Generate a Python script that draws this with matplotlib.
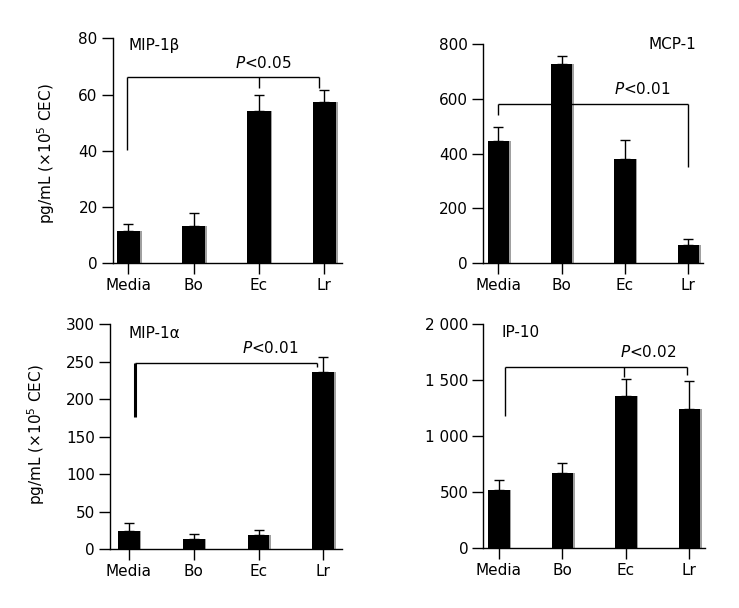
import matplotlib
matplotlib.use("Agg")
import matplotlib.pyplot as plt
import numpy as np

categories = ["Media", "Bo", "Ec", "Lr"]

mip1b_mean = [11.6, 13.4, 54.3, 57.5]
mip1b_err = [2.3, 4.5, 5.7, 4.0]

mcp1_mean = [446, 728, 379, 67]
mcp1_err = [50, 30, 70, 21]

mip1a_mean = [24.9, 14.2, 19.1, 236.6]
mip1a_err = [9.7, 6.7, 7.1, 19.9]

ip10_mean = [520, 675, 1355, 1242]
ip10_err = [86, 83, 152, 250]

mip1b_ticks = [0, 20, 40, 60, 80]
mcp1_ticks = [0, 200, 400, 600, 800]
mip1a_ticks = [0, 50, 100, 150, 200, 250, 300]
ip10_ticks = [0, 500, 1000, 1500, 2000]
ip10_ticklabels = ["0", "500", "1 000", "1 500", "2 000"]

plt.rcParams['font.family'] = ['DejaVu Sans']
FS = 11

fig = plt.figure(figsize=(7.39, 6.08), dpi=100)

def make_ax(rect, xlim, ylim):
    ax = fig.add_axes(rect)
    ax.set_xlim(*xlim)
    ax.set_ylim(*ylim)
    for s in ["top", "right"]:
        ax.spines[s].set_visible(False)
    for s in ["left", "bottom"]:
        ax.spines[s].set_linewidth(1.0)
    ax.tick_params(direction="out", length=7.8, width=1.0, labelsize=FS, pad=3)
    ax.set_xticks(range(len(categories)))
    ax.set_xticklabels(categories)
    return ax

def draw_bars(ax, means, errs, width):
    x = np.arange(len(means))
    # faint shadow
    ax.bar(x + 0.025, means, width=width, color="#a0a0a0", linewidth=0, zorder=1)
    ax.bar(x, means, width=width, color="black", linewidth=0, zorder=2)
    ax.errorbar(x, means, yerr=[np.zeros(len(errs)), errs], fmt="none",
                ecolor="black", elinewidth=1.0, capsize=3.6, capthick=1.0, zorder=3)

def bracket(ax, y, drops, lw=1.0, lwfirst=None):
    xs = [d[0] for d in drops]
    ax.plot([min(xs), max(xs)], [y, y], color="black", lw=lw, solid_capstyle="butt", zorder=4)
    for i, (xx, yb) in enumerate(drops):
        w = lwfirst if (i == 0 and lwfirst) else lw
        ax.plot([xx, xx], [y, yb], color="black", lw=w, solid_capstyle="butt", zorder=4)

ylabel = r"pg/mL ($\times$10$^5$ CEC)"

# Panel 1: MIP-1beta
ax1 = make_ax([0.1525, 0.5669, 0.3099, 0.370], (-0.239, 3.266), (0, 80))
draw_bars(ax1, mip1b_mean, mip1b_err, 0.357)
ax1.set_yticks(mip1b_ticks)
ax1.set_ylabel(ylabel, fontsize=FS)
ax1.yaxis.set_label_coords(-0.2445, 0.489)
bracket(ax1, 66.4, [(-0.025, 40.3), (2.0, 62.2), (2.92, 62.2)])
ax1.text(2.06, 71.3, r"$\it{P}$<0.05", fontsize=FS, ha="center", va="center")
ax1.text(0.0, 77.6, "MIP-1β", fontsize=FS, ha="left", va="center")

# Panel 2: MCP-1
ax2 = make_ax([0.6532, 0.5669, 0.2985, 0.3607], (-0.246, 3.237), (0, 800))
draw_bars(ax2, mcp1_mean, mcp1_err, 0.337)
ax2.set_yticks(mcp1_ticks)
bracket(ax2, 583, [(0.0, 541), (3.0, 350)])
ax2.text(2.28, 636, r"$\it{P}$<0.01", fontsize=FS, ha="center", va="center")
ax2.text(3.13, 800, "MCP-1", fontsize=FS, ha="right", va="center")

# Panel 3: MIP-1alpha
ax3 = make_ax([0.1488, 0.0965, 0.3136, 0.3706], (-0.293, 3.284), (0, 300))
draw_bars(ax3, mip1a_mean, mip1a_err, 0.335)
ax3.set_yticks(mip1a_ticks)
ax3.set_ylabel(ylabel, fontsize=FS)
ax3.yaxis.set_label_coords(-0.273, 0.507)
bracket(ax3, 248.6, [(0.093, 175.8), (2.9, 243)], lw=1.0, lwfirst=2.2)
ax3.text(2.18, 267.6, r"$\it{P}$<0.01", fontsize=FS, ha="center", va="center")
ax3.text(0.0, 288, "MIP-1α", fontsize=FS, ha="left", va="center")

# Panel 4: IP-10
ax4 = make_ax([0.654, 0.0982, 0.300, 0.3689], (-0.247, 3.247), (0, 2000))
draw_bars(ax4, ip10_mean, ip10_err, 0.34)
ax4.set_yticks(ip10_ticks)
ax4.set_yticklabels(ip10_ticklabels)
bracket(ax4, 1620, [(0.095, 1180), (1.97, 1530), (2.97, 1545)])
ax4.text(2.35, 1747, r"$\it{P}$<0.02", fontsize=FS, ha="center", va="center")
ax4.text(0.04, 1922, "IP-10", fontsize=FS, ha="left", va="center")

fig.savefig("out.png", dpi=100)
